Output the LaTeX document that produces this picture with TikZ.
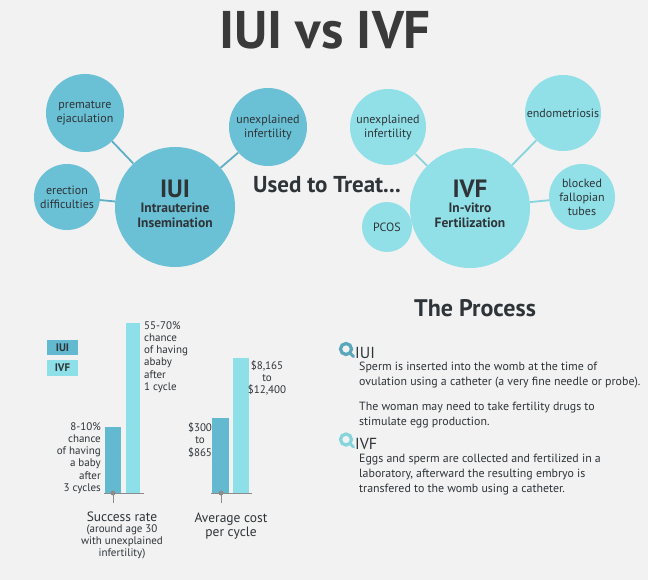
\documentclass[tikz,border=0pt]{standalone}
\usepackage{fontspec}
\setmainfont{PT Sans}
\definecolor{bg}{HTML}{F2F2F2}
\definecolor{iuiC}{HTML}{6AC0D4}
\definecolor{ivfC}{HTML}{91E0E8}
\definecolor{iuiL}{HTML}{5DAFC3}
\definecolor{ivfL}{HTML}{86D4DE}
\definecolor{barA}{HTML}{63B9CF}
\definecolor{barB}{HTML}{8EE0E8}
\definecolor{txt}{HTML}{2E3438}
\definecolor{ttl}{HTML}{3A3A3A}
\definecolor{axisg}{HTML}{8C8C8C}
\tikzset{
  bub/.style={circle,inner sep=0pt,align=center,text=txt,font=\fontsize{12}{14}\selectfont},
  lbub/.style={bub,fill=iuiC},
  rbub/.style={bub,fill=ivfC},
  lconn/.style={draw=iuiL,line width=1.8pt},
  rconn/.style={draw=ivfL,line width=1.8pt},
  bigttl/.style={inner sep=0pt,text height=17.5pt,text depth=0pt,text=txt,font=\fontsize{25}{25}\selectfont\bfseries},
  bigsub/.style={inner sep=0pt,align=center,text=txt,font=\fontsize{13.5}{14.5}\selectfont\bfseries},
  small/.style={inner sep=0pt,text=txt,font=\fontsize{11}{12.2}\selectfont},
  para/.style={inner sep=0pt,anchor=base west,text height=8.5pt,text=txt,font=\fontsize{11.9}{15}\selectfont},
  phead/.style={inner sep=0pt,text depth=0pt,anchor=base west,text=txt,font=\fontsize{16}{16}\selectfont},
  legbox/.style={inner sep=0pt,minimum width=31pt,minimum height=15.5pt,text=txt,font=\fontsize{11}{11}\selectfont\bfseries},
}
\begin{document}
\begin{tikzpicture}[x=1pt,y=-1pt]
\useasboundingbox[fill=bg] (0,0) rectangle (648,580);
% title
\node[inner sep=0pt,text=ttl,font=\fontsize{53}{53}\selectfont\bfseries] (title) at (325,30) {IUI vs IVF};
% IUI cluster
\node[lbub,minimum size=120pt] (iui) at (175,207) {};
\node[lbub,minimum size=78pt] (pe) at (85,113) {premature\\ejaculation};
\node[lbub,minimum size=78pt] (ui1) at (268,127) {unexplained\\infertility};
\node[lbub,minimum size=66pt] (ed) at (67,197) {erection\\difficulties};
\draw[lconn] (iui) -- (pe);
\draw[lconn] (iui) -- (ui1);
\draw[lconn] (iui) -- (ed);
\node[bigttl] (iuit) at (175,189) {IUI};
\node[bigsub] (iuis) at (175,215.5) {Intrauterine\\Insemination};
% used to treat
\node[inner sep=0pt,text=txt,font=\fontsize{23}{23}\selectfont\bfseries] (used) at (327,185) {Used to Treat...};
% IVF cluster
\node[rbub,minimum size=120pt] (ivf) at (470,208) {};
\node[rbub,minimum size=76pt] (ui2) at (388,127) {unexplained\\infertility};
\node[rbub,minimum size=76pt] (endo) at (563,113) {endometriosis};
\node[rbub,minimum size=66pt] (bft) at (582,197) {blocked\\fallopian\\tubes};
\node[rbub,minimum size=50pt] (pcos) at (387,227) {PCOS};
\draw[rconn] (ivf) -- (ui2);
\draw[rconn] (ivf) -- (endo);
\draw[rconn] (ivf) -- (bft);
\draw[rconn] (ivf) -- (pcos);
\node[bigttl] (ivft) at (470,189) {IVF};
\node[bigsub] (ivfs) at (470,215.5) {In-vitro\\Fertilization};
% legend
\node[legbox,fill=barA] (legA) at (62.5,347.5) {IUI};
\node[legbox,fill=barB] (legB) at (62.5,368) {IVF};
% success rate bars
\fill[barA] (105,427) rectangle (121,493);
\fill[barB] (126,323) rectangle (140,493);
\coordinate (sa) at (104,493);
\coordinate (sb) at (144,493);
\coordinate (sd) at (113,493);
\coordinate (st) at (113,503);
\draw[axisg,line width=1pt] (sa) -- (sb);
\draw[axisg,line width=1pt] (sd) -- (st);
\fill[axisg] (sd) circle (2.5);
% cost bars
\fill[barA] (212,418) rectangle (229,493);
\fill[barB] (233,358) rectangle (249,493);
\coordinate (ca) at (211,493);
\coordinate (cb) at (252,493);
\coordinate (cd) at (221,493);
\coordinate (ct) at (221,503);
\draw[axisg,line width=1pt] (ca) -- (cb);
\draw[axisg,line width=1pt] (cd) -- (ct);
\fill[axisg] (cd) circle (2.5);
% bar labels
\node[small,align=right,anchor=east] (l1) at (101,458) {8-10\%\\chance\\of having\\a baby\\after\\3 cycles};
\node[small,align=left,anchor=west] (l2) at (144,357) {55-70\%\\chance\\of having\\ababy\\after\\1 cycle};
\node[small,align=center] (l3) at (200,440) {\$300\\to\\\$865};
\node[small,align=center] (l4) at (267,378) {\$8,165\\to\\\$12,400};
\node[inner sep=0pt,text=txt,font=\fontsize{13.5}{14}\selectfont] (srt) at (122,517) {Success rate};
\node[small,align=center] (srs) at (122,542) {(around age 30\\with unexplained\\infertility)};
\node[inner sep=0pt,align=center,text=txt,font=\fontsize{13.5}{14}\selectfont] (avg) at (231,526) {Average cost\\per cycle};
% process
\node[inner sep=0pt,text=txt,font=\fontsize{24}{24}\selectfont\bfseries] (proc) at (475,308) {The Process};
\draw[barA!90!black,line width=3.2pt] (346,349) circle (5.5);
\draw[barA!90!black,line width=3pt,line cap=round] (350.5,353.5) -- (353.5,356.5);
\draw[barB!95!black,line width=3.2pt] (346,439.5) circle (5.5);
\draw[barB!95!black,line width=3pt,line cap=round] (350.5,444) -- (353.5,447);
\node[phead] (h1) at (355,358) {IUI};
\node[para] (p1) at (359,370) {Sperm is inserted into the womb at the time of};
\node[para] (p2) at (359,385) {ovulation using a catheter (a very fine needle or probe).};
\node[para] (p3) at (359,410) {The woman may need to take fertility drugs to};
\node[para] (p4) at (359,425) {stimulate egg production.};
\node[phead] (h2) at (355,449.5) {IVF};
\node[para] (p5) at (359,462.5) {Eggs and sperm are collected and fertilized in a};
\node[para] (p6) at (359,477.5) {laboratory, afterward the resulting embryo is};
\node[para] (p7) at (359,492.5) {transfered to the womb using a catheter.};
\end{tikzpicture}
\end{document}
